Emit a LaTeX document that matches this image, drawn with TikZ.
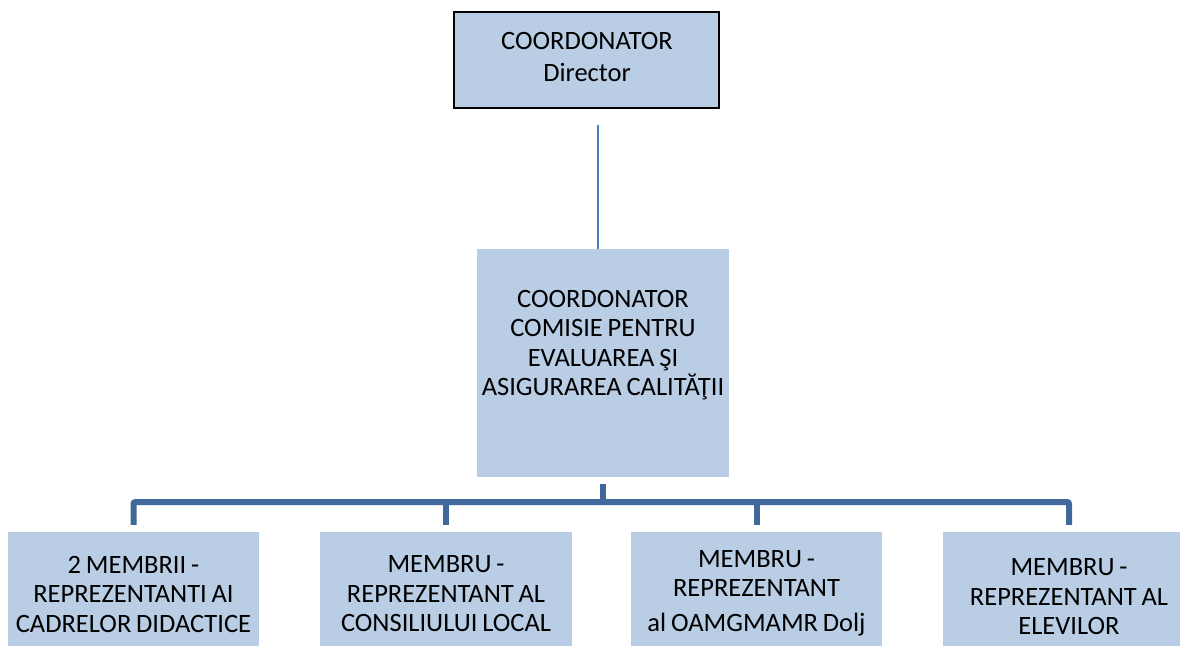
\documentclass[tikz,border=0pt]{standalone}
\usepackage{fontspec}
\setmainfont{Carlito}[WordSpace=0.8]
\definecolor{boxfill}{RGB}{185,205,229}
\definecolor{thinline}{RGB}{74,126,187}
\definecolor{busline}{RGB}{65,104,154}
\begin{document}
\begin{tikzpicture}[x=1pt,y=-1pt,
  box/.style={fill=boxfill, inner sep=0pt},
  txt/.style={inner sep=0pt, align=center, font=\fontsize{26.5}{29.5}\selectfont},
  thinconn/.style={draw=thinline, line width=2pt},
  busconn/.style={draw=busline, line width=6pt, rounded corners=2pt}]
\useasboundingbox (0,0) rectangle (1180,647);
\clip (0,0) rectangle (1180,647);
\node[box, draw=black, line width=1.5pt, minimum width=265, minimum height=96] (top) at (586.5,60) {};
\node[txt] (toptxt) at (587,57) {COORDONATOR\\[2pt]Director};
\node[box, minimum width=252, minimum height=228] (mid) at (603,363) {};
\node[txt] (midtxt) at (603,345) {COORDONATOR\\COMISIE PENTRU\\EVALUAREA ŞI\\ASIGURAREA CALITĂŢII};
\node[box, minimum width=251.5, minimum height=114] (b1) at (133.5,589) {};
\node[txt] (b1t) at (133.5,594) {2 MEMBRII -\\REPREZENTANTI AI\\CADRELOR DIDACTICE};
\node[box, minimum width=252, minimum height=114] (b2) at (446,589) {};
\node[txt] (b2t) at (446,594) {MEMBRU -\\REPREZENTANT AL\\CONSILIULUI LOCAL};
\node[box, minimum width=251.5, minimum height=114] (b3) at (756.5,589) {};
\node[txt] (b3t) at (756.5,593) {MEMBRU -\\REPREZENTANT\\[5pt]al OAMGMAMR Dolj};
\node[box, minimum width=252, minimum height=114] (b4) at (1069,589) {};
\node[txt] (b4t) at (1069,597) {MEMBRU -\\REPREZENTANT AL\\ELEVILOR};
\coordinate (ttop) at (598,125);
\draw[thinconn] (ttop) -- (ttop |- mid.north);
\coordinate (stub) at ([yshift=-7pt]mid.south);
\coordinate (busmid) at (603,502);
\draw[busconn] (stub) -- (busmid);
\draw[busconn] ([yshift=7pt]b1.north) |- (busmid) -| ([yshift=7pt]b4.north);
\draw[busconn] ([yshift=7pt]b2.north) -- (b2.north |- busmid);
\draw[busconn] ([yshift=7pt]b3.north) -- (b3.north |- busmid);
\end{tikzpicture}
\end{document}
